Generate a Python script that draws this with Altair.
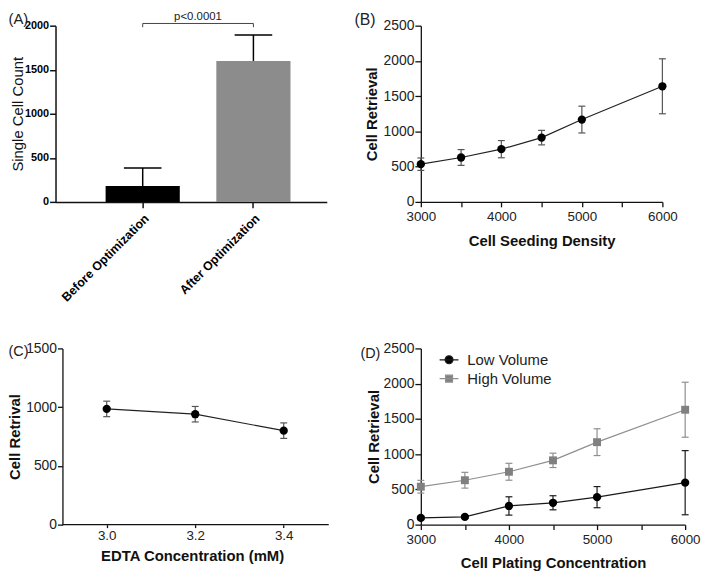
import altair as alt
import pandas as pd

# ---------------- data ----------------
a_groups = ["Before Optimization", "After Optimization"]
a_mean = [180, 1600]
a_sd = [205, 295]
a_pvalue = "p<0.0001"

b_density = [3000, 3500, 4000, 4500, 5000, 6000]
b_mean = [535, 630, 748, 912, 1168, 1640]
b_sd = [88, 112, 122, 103, 190, 390]

c_edta = [3.0, 3.2, 3.4]
c_mean = [985, 940, 800]
c_sd = [66, 66, 66]

d_conc = [3000, 3500, 4000, 4500, 5000, 6000]
d_series = ["Low Volume", "High Volume"]
d_low_mean = [95, 110, 265, 310, 390, 595]
d_low_sd = [25, 20, 130, 100, 150, 455]
d_high_mean = [538, 630, 750, 912, 1170, 1630]
d_high_sd = [90, 112, 120, 102, 190, 390]

FONT = "Liberation Sans"
INK = "#111111"
H1 = 178   # top row plot height
H2 = 178   # bottom row plot height


def panel_title(text, dx, dy=0, size=16):
    return alt.TitleParams(text=text, anchor="start", frame="group", dx=dx, dy=dy,
                           fontSize=size, fontWeight="normal", color="#222222", offset=4)


# ---------------- panel A ----------------
dfA = pd.DataFrame({"group": a_groups, "mean": a_mean,
                    "upper": [m + s for m, s in zip(a_mean, a_sd)]})
xA = alt.X("group:N", sort=a_groups,
           scale=alt.Scale(domain=a_groups, paddingInner=0.33, paddingOuter=0.39, align=0.58),
           axis=alt.Axis(title=None, labelAngle=-45, labelAlign="right", labelBaseline="top",
                         labelFontWeight="bold", labelFontSize=12.5, labelColor="black",
                         tickSize=6, tickWidth=1.5, domainWidth=1.5, labelPadding=4))
yA = alt.Y("mean:Q", scale=alt.Scale(domain=[0, 2000], nice=False),
           axis=alt.Axis(values=[0, 500, 1000, 1500, 2000], title="Single  Cell Count",
                         format="d", labelOverlap=False,
                         titleFontWeight="normal", titleFontSize=15, titleX=-38, titleY=H1 / 2,
                         titleBaseline="middle", labelFontWeight="bold", labelFontSize=11,
                         labelColor="black", tickSize=6, labelPadding=1,
                         tickWidth=1.5, domainWidth=1.5))
baseA = alt.Chart(dfA)
barsA = baseA.mark_bar().encode(
    x=xA, y=yA,
    color=alt.Color("group:N", scale=alt.Scale(domain=a_groups, range=["#000000", "#8c8c8c"]),
                    legend=None))
errA = baseA.mark_rule(color="black", strokeWidth=1.5).encode(
    x=alt.X("group:N", sort=a_groups), y="mean:Q", y2="upper:Q")
capA = baseA.mark_point(shape="stroke", size=38 * 38, strokeWidth=1.5, color="black",
                        opacity=1).encode(x=alt.X("group:N", sort=a_groups), y="upper:Q")
brH = baseA.mark_line(color="#444444", strokeWidth=1).encode(
    x=alt.X("group:N", sort=a_groups), y=alt.datum(2025))
brV = baseA.mark_rule(color="#444444", strokeWidth=1).encode(
    x=alt.X("group:N", sort=a_groups), y=alt.datum(1983), y2=alt.datum(2025))
pText = alt.Chart(pd.DataFrame({"label": [a_pvalue]})).mark_text(
    dx=-56, fontSize=11.5, font=FONT, color="#222222", baseline="middle").encode(
    x=alt.datum("After Optimization"), y=alt.datum(2098), text="label:N")
chartA = alt.layer(barsA, errA, capA, brH, brV, pText).properties(
    width=274, height=H1, title=panel_title("(A)", -47.5, 20, 15))


# ---------------- helpers for xy panels ----------------
minor_hidden = {"condition": {"test": "datum.value % 1000 !== 0", "value": 0}, "value": 1}


def x_axis(values, title, fmt, hide_minor=False, title_y=39, tick=5, pad=3, domain=True):
    kw = dict(values=values, title=title, format=fmt, titleFontWeight="bold",
              titleFontSize=15, titleY=title_y, titleBaseline="middle",
              labelFontSize=13.5, labelFlush=False, labelOverlap=False,
              tickSize=tick, labelPadding=pad, tickWidth=1.3, domainWidth=1.3,
              domain=domain)
    if hide_minor:
        kw["labelOpacity"] = minor_hidden
    return alt.Axis(**kw)


def y_axis(title, title_x, h, count, offset=0, tick=6):
    return alt.Axis(tickCount=count, title=title, titleFontWeight="bold", titleFontSize=15,
                    titleX=title_x, titleY=h / 2, titleBaseline="middle", format="d",
                    labelOverlap=False, labelFontSize=14, labelSeparation=0,
                    tickSize=tick, labelPadding=1,
                    tickWidth=1.3, domainWidth=1.3, offset=offset)


# ---------------- panel B ----------------
dfB = pd.DataFrame({"x": b_density, "y": b_mean,
                    "lo": [m - s for m, s in zip(b_mean, b_sd)],
                    "hi": [m + s for m, s in zip(b_mean, b_sd)]})
xB = alt.X("x:Q", scale=alt.Scale(domain=[3000, 6000], nice=False, zero=False),
           axis=x_axis(list(range(3000, 6001, 500)), "Cell Seeding Density", "d",
                       hide_minor=True, title_y=39))
yB = alt.Y("lo:Q", scale=alt.Scale(domain=[0, 2500], nice=False),
           axis=y_axis("Cell Retrieval", -50, H1, 5))
baseB = alt.Chart(dfB)
errB = baseB.mark_rule(color="#555555", strokeWidth=1.2).encode(x=xB, y=yB, y2="hi:Q")
capBh = baseB.mark_point(shape="stroke", size=49, strokeWidth=1.2, color="#555555",
                         opacity=1).encode(x="x:Q", y="hi:Q")
capBl = baseB.mark_point(shape="stroke", size=49, strokeWidth=1.2, color="#555555",
                         opacity=1).encode(x="x:Q", y="lo:Q")
lineB = baseB.mark_line(color="#222222", strokeWidth=1.2).encode(x="x:Q", y="y:Q")
ptsB = baseB.mark_circle(size=70, color="black", opacity=1).encode(x="x:Q", y="y:Q")
chartB = alt.layer(errB, capBh, capBl, lineB, ptsB).properties(
    width=244, height=H1, title=panel_title("(B)", -67, 13))

# ---------------- panel C ----------------
# plot area starts 7px left of its y axis; the axis is shifted right onto x = 2.9
dfC = pd.DataFrame({"x": c_edta, "y": c_mean,
                    "lo": [m - s for m, s in zip(c_mean, c_sd)],
                    "hi": [m + s for m, s in zip(c_mean, c_sd)]})
xC = alt.X("x:Q", scale=alt.Scale(domain=[2.8843, 3.5018], nice=False, zero=False),
           axis=x_axis(c_edta, "EDTA Concentration (mM)", ".1f",
                       title_y=31, tick=3, pad=1, domain=False))
yC = alt.Y("lo:Q", scale=alt.Scale(domain=[0, 1500], nice=False),
           axis=y_axis("Cell Retrival", -48, H2, 3, offset=-7, tick=5))
baseC = alt.Chart(dfC)
errC = baseC.mark_rule(color="#555555", strokeWidth=1.2).encode(x=xC, y=yC, y2="hi:Q")
axisLineC = alt.Chart(pd.DataFrame({"v": [0]})).mark_rule(color=INK, strokeWidth=1.3).encode(
    x=alt.datum(2.9), x2=alt.datum(3.5018), y=alt.datum(0))
capCh = baseC.mark_point(shape="stroke", size=49, strokeWidth=1.2, color="#555555",
                         opacity=1).encode(x="x:Q", y="hi:Q")
capCl = baseC.mark_point(shape="stroke", size=49, strokeWidth=1.2, color="#555555",
                         opacity=1).encode(x="x:Q", y="lo:Q")
lineC = baseC.mark_line(color="#222222", strokeWidth=1.2).encode(x="x:Q", y="y:Q")
ptsC = baseC.mark_circle(size=70, color="black", opacity=1).encode(x="x:Q", y="y:Q")
chartC = alt.layer(errC, axisLineC, capCh, capCl, lineC, ptsC).properties(
    width=276, height=H2, title=panel_title("(C)", -47.5, 22, 14.5))

# ---------------- panel D ----------------
rows = []
for s, means, sds in [(d_series[0], d_low_mean, d_low_sd), (d_series[1], d_high_mean, d_high_sd)]:
    for x, m, sd in zip(d_conc, means, sds):
        rows.append({"series": s, "x": x, "y": m, "lo": m - sd, "hi": m + sd})
dfD = pd.DataFrame(rows)
series_colors = ["#1a1a1a", "#8f8f8f"]
col_scale = alt.Scale(domain=d_series, range=series_colors)
xD = alt.X("x:Q", scale=alt.Scale(domain=[3000, 6000], nice=False, zero=False),
           axis=x_axis(list(range(3000, 6001, 500)),
                       "Cell Plating Concentration", "d", hide_minor=True, title_y=38))
yD = alt.Y("lo:Q", scale=alt.Scale(domain=[0, 2500], nice=False),
           axis=y_axis("Cell Retrieval", -48, H2, 5))
baseD = alt.Chart(dfD)
errD = baseD.mark_rule(strokeWidth=1.2).encode(
    x=xD, y=yD, y2="hi:Q", color=alt.Color("series:N", scale=col_scale, legend=None))
capDh = baseD.mark_point(shape="stroke", size=49, strokeWidth=1.2, opacity=1).encode(
    x="x:Q", y="hi:Q", color=alt.Color("series:N", scale=col_scale, legend=None))
capDl = baseD.mark_point(shape="stroke", size=49, strokeWidth=1.2, opacity=1).encode(
    x="x:Q", y="lo:Q", color=alt.Color("series:N", scale=col_scale, legend=None))
lineD = baseD.mark_line(strokeWidth=1.2).encode(
    x="x:Q", y="y:Q", color=alt.Color("series:N", scale=col_scale, legend=None))
ptsLow = baseD.mark_circle(size=70, color="black", opacity=1).encode(
    x="x:Q", y="y:Q").transform_filter(alt.datum.series == d_series[0])
ptsHigh = baseD.mark_square(size=64, color="#808080", opacity=1).encode(
    x="x:Q", y="y:Q").transform_filter(alt.datum.series == d_series[1])

# legend (hoisted to the top level; position is relative to panel A's plot origin)
circle_path = "M-1,0H1M0.42,0A0.42,0.42,0,1,1,-0.42,0A0.42,0.42,0,1,1,0.42,0Z"
square_path = "M-1,0H1M-0.37,-0.37H0.37V0.37H-0.37Z"
leg_fill = ["#000000", "#808080"]
leg = alt.Legend(title=None, orient="none", legendX=369 + 18, legendY=H1 + 148 + 1,
                 labelFontSize=15, labelColor="#222222", labelFont=FONT, symbolSize=361,
                 rowPadding=0, labelOffset=8, padding=0, symbolStrokeWidth=1.2)
legendD = baseD.mark_point(filled=True, opacity=1, strokeWidth=1.2).encode(
    x="x:Q", y="y:Q",
    fill=alt.Fill("series:N", scale=alt.Scale(domain=d_series, range=leg_fill), legend=leg),
    stroke=alt.Stroke("series:N", scale=alt.Scale(domain=d_series, range=series_colors), legend=leg),
    shape=alt.Shape("series:N", scale=alt.Scale(domain=d_series, range=[circle_path, square_path]),
                    legend=leg),
).transform_filter("false")
chartD = alt.layer(errD, capDh, capDl, lineD, ptsLow, ptsHigh, legendD).properties(
    width=267, height=H2, title=panel_title("(D)", -61, 24, 14.5))

# ---------------- layout ----------------
chart = alt.concat(chartA, chartB, chartC, chartD, columns=2, bounds="flush",
                   spacing={"row": 148, "column": 93}).resolve_scale(
    color="independent"
).properties(
    padding=0,
).configure_view(stroke=None).configure_axis(
    grid=False, labelFont=FONT, titleFont=FONT, domainColor=INK, tickColor=INK,
    labelColor="#222222", titleColor="#111111"
).configure_title(font=FONT)

chart.save("out.html", embed_options={"renderer": "svg", "actions": False})
